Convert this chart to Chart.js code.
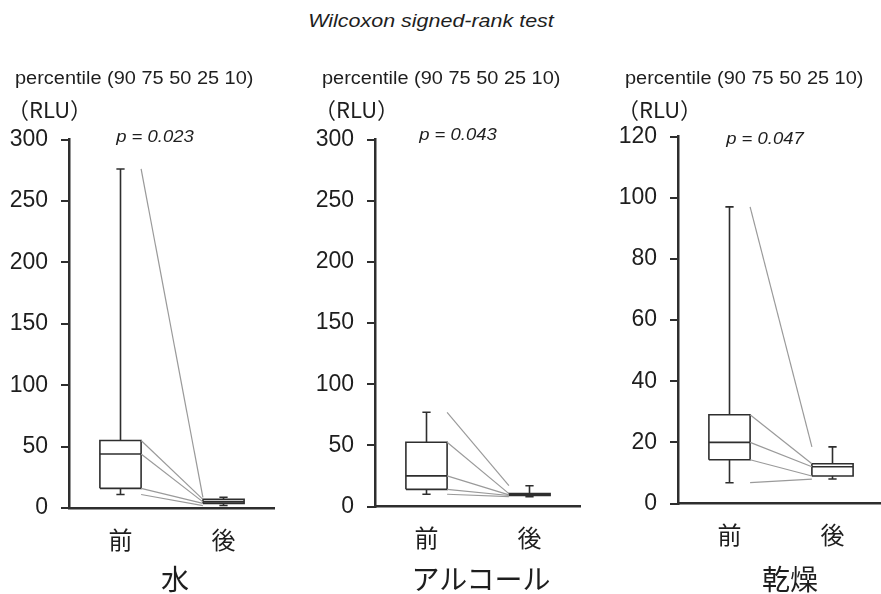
<!DOCTYPE html>
<html>
<head>
<meta charset="utf-8">
<script src="https://cdn.jsdelivr.net/npm/chart.js@4/dist/chart.umd.min.js"></script>
<style>
    html, body { margin: 0; padding: 0; background: #fff; overflow: hidden; }
    body { width: 881px; height: 594px; position: relative; font-family: "Liberation Sans", Arial, sans-serif; color: #1e1e1e; }
    canvas { position: absolute; top: 0; }
    .txt { position: absolute; white-space: nowrap; line-height: 1; }
    .title { font-style: italic; font-size: 19px; transform: translate(-50%, -50%) scaleX(1.13); }
    .pct { font-size: 17.5px; transform: translateY(-50%) scaleX(1.14); transform-origin: left center; }
    .unit { font-family: "Noto Sans CJK JP", sans-serif; font-size: 22px; transform: translate(-8px, -50%); }
    .pval { font-style: italic; font-size: 16.5px; transform: translate(-50%, -50%) scaleX(1.12); }
    .group { font-family: "Noto Sans CJK JP", sans-serif; font-size: 28px; transform: translate(-50%, -50%); }
</style>
</head>
<body>

<script>
// ---- data (percentiles 90, 75, 50, 25, 10) ----
const groups = ['水', 'アルコール', '乾燥'];
const timeLabels = ['前', '後'];
const percentiles = [90, 75, 50, 25, 10];

const waterBefore = [276, 55, 44, 16, 11];
const waterAfter = [8.7, 7, 5, 3.8, 2];
const alcoholBefore = [77, 52.5, 25, 14, 10];
const alcoholAfter = [17, 10.5, 9.5, 9, 8];
const dryBefore = [97, 29, 20, 14.3, 6.8];
const dryAfter = [18.5, 13, 12, 9, 8];

const pValues = ['0.023', '0.043', '0.047'];
const yMaxes = [300, 300, 120];
const ySteps = [50, 50, 20];

// ---- layout (pixels) ----
const layout = [
    { axisX: 69,  top: 139.5, bottom: 508,   pX: 155, pY: 136, pctX: 15,  groupX: 175 },
    { axisX: 375, top: 139.5, bottom: 506.5, pX: 458, pY: 134, pctX: 322, groupX: 481 },
    { axisX: 678, top: 136.5, bottom: 503.5, pX: 765, pY: 138, pctX: 625, groupX: 790 }
];
const seriesBefore = [waterBefore, alcoholBefore, dryBefore];
const seriesAfter = [waterAfter, alcoholAfter, dryAfter];

const HALF = 0.2;      // half box width, x units
const CAP = 0.04;      // whisker cap half width
const DARK = '#2e2e2e';
const GREY = '#9a9a9a';

function addText(cls, text, x, y) {
    const d = document.createElement('div');
    d.className = 'txt ' + cls;
    d.textContent = text;
    d.style.left = x + 'px';
    d.style.top = y + 'px';
    document.body.appendChild(d);
}

function seg(points, color, width) {
    return {
        data: points,
        showLine: true,
        borderColor: color,
        borderWidth: width,
        pointRadius: 0,
        pointHoverRadius: 0,
        borderJoinStyle: 'miter',
        tension: 0,
        fill: false
    };
}

// box + whiskers for one percentile set at x = c
function boxDatasets(c, p) {
    const [p90, p75, p50, p25, p10] = p;
    return [
        seg([{ x: c - HALF, y: p25 }, { x: c + HALF, y: p25 }, { x: c + HALF, y: p75 },
             { x: c - HALF, y: p75 }, { x: c - HALF, y: p25 }], DARK, 1.6),
        seg([{ x: c - HALF, y: p50 }, { x: c + HALF, y: p50 }], DARK, 1.6),
        seg([{ x: c, y: p75 }, { x: c, y: p90 }], DARK, 1.6),
        seg([{ x: c, y: p25 }, { x: c, y: p10 }], DARK, 1.6),
        seg([{ x: c - CAP, y: p90 }, { x: c + CAP, y: p90 }], DARK, 1.6),
        seg([{ x: c - CAP, y: p10 }, { x: c + CAP, y: p10 }], DARK, 1.6)
    ];
}

function buildPanel(i) {
    const L = layout[i];
    const canvas = document.createElement('canvas');
    canvas.width = 69 + 206;
    canvas.height = 594;
    canvas.style.left = (L.axisX - 69) + 'px';
    document.body.appendChild(canvas);

    const before = seriesBefore[i];
    const after = seriesAfter[i];

    const links = percentiles.map((_, k) =>
        seg([{ x: 1 + HALF, y: before[k] }, { x: 2 - HALF, y: after[k] }], GREY, 1.2));

    new Chart(canvas, {
        type: 'scatter',
        data: { datasets: [...links, ...boxDatasets(1, before), ...boxDatasets(2, after)] },
        options: {
            responsive: false,
            animation: false,
            events: [],
            layout: { padding: { top: L.top, left: 0, right: 0, bottom: 0 } },
            plugins: { legend: { display: false }, tooltip: { enabled: false } },
            scales: {
                x: {
                    type: 'linear',
                    min: 0.5,
                    max: 2.5,
                    afterFit: s => { s.height = 594 - L.bottom; },
                    afterBuildTicks: s => { s.ticks = [{ value: 1 }, { value: 2 }]; },
                    grid: { drawOnChartArea: false, drawTicks: false },
                    border: { display: true, color: DARK, width: 2.5 },
                    ticks: {
                        padding: 17,
                        color: '#1e1e1e',
                        font: { family: '"Noto Sans CJK JP", sans-serif', size: 24 },
                        callback: v => timeLabels[v - 1]
                    }
                },
                y: {
                    min: 0,
                    max: yMaxes[i],
                    afterFit: s => { s.width = 69; },
                    grid: { drawOnChartArea: false, drawTicks: true, tickLength: 8, tickColor: DARK, lineWidth: 2 },
                    border: { display: true, color: DARK, width: 2.5 },
                    ticks: {
                        stepSize: ySteps[i],
                        padding: 13,
                        color: '#1e1e1e',
                        font: { family: '"Liberation Sans", Arial, sans-serif', size: 23 }
                    }
                }
            }
        }
    });

    addText('pct', 'percentile (' + percentiles.join(' ') + ')', L.pctX, 79);
    addText('unit', '（RLU）', L.pctX, 108);
    addText('pval', 'p = ' + pValues[i], L.pX, L.pY);
    addText('group', groups[i], L.groupX, 578);
}

addText('title', 'Wilcoxon signed-rank test', 431, 20);
for (let i = 0; i < groups.length; i++) buildPanel(i);
</script>
</body>
</html>
